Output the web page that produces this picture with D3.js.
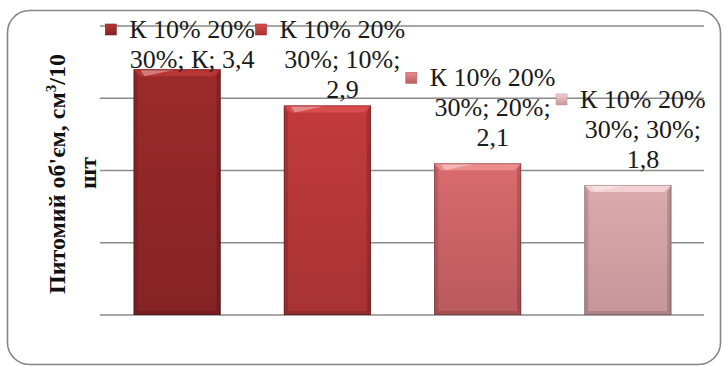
<!DOCTYPE html>
<html>
<head>
<meta charset="utf-8">
<script src="https://cdn.jsdelivr.net/npm/d3@7"></script>
<style>
  body { margin: 0; background: #fff; }
  svg { display: block; }
</style>
</head>
<body>
<script>
// data
var categories = ["К", "10%", "20%", "30%"];
var values = [3.4, 2.9, 2.1, 1.8];
var seriesName = "К 10% 20% 30%";
var yTicks = [0, 1, 2, 3, 4];
var yTitle = ["Питомий об'єм, см", "3", "/10"];
var yTitle2 = "шт";

// bar colours: [top, body, bottom]
var colors = [
    ["#b83636", "#9c2a2b", "#842325"],
    ["#d84c4c", "#c23b3c", "#a83234"],
    ["#ec8c8d", "#d96b6d", "#b95a5d"],
    ["#f2cfd1", "#dcaaad", "#c6969a"]
];

var serif = "Liberation Serif, Tinos, Times New Roman, DejaVu Serif, serif";

var W = 724, H = 366;
var svg = d3.select("body").append("svg")
    .attr("width", W)
    .attr("height", H);

var defs = svg.append("defs");

// outer frame
svg.append("rect")
    .attr("x", 7.5).attr("y", 10.5)
    .attr("width", 713).attr("height", 354)
    .attr("rx", 22)
    .attr("fill", "#fff")
    .attr("stroke", "#858585")
    .attr("stroke-width", 1.6);

var x = d3.scaleBand()
    .domain(categories)
    .range([102, 703])
    .paddingInner(0.42)
    .paddingOuter(0.21);

var y = d3.scaleLinear()
    .domain([0, 4])
    .range([315, 26]);

// gridlines
svg.append("g")
    .selectAll("line")
    .data(yTicks)
    .enter()
    .append("line")
    .attr("x1", 100)
    .attr("x2", 704)
    .attr("y1", d => y(d))
    .attr("y2", d => y(d))
    .attr("stroke", "#8a8a8a")
    .attr("stroke-width", 1.5);

// gradients for each bar
colors.forEach(function (c, i) {
    var g = defs.append("linearGradient")
        .attr("id", "bar" + i)
        .attr("x1", 0).attr("y1", 0).attr("x2", 0).attr("y2", 1);
    g.append("stop").attr("offset", "0%").attr("stop-color", c[1]);
    g.append("stop").attr("offset", "100%").attr("stop-color", c[2]);
    var k = defs.append("linearGradient")
        .attr("id", "key" + i)
        .attr("x1", 0).attr("y1", 0).attr("x2", 0).attr("y2", 1);
    k.append("stop").attr("offset", "0%").attr("stop-color", c[0]);
    k.append("stop").attr("offset", "100%").attr("stop-color", c[2]);
});

var data = categories.map((c, i) => ({cat: c, value: values[i], i: i}));
var b = 7; // bevel size

var bars = svg.append("g")
    .selectAll("g")
    .data(data)
    .enter()
    .append("g");

bars.each(function (d) {
    var g = d3.select(this);
    var x0 = x(d.cat), w = x.bandwidth();
    var y0 = y(d.value), h = y(0) - y(d.value);
    var c = colors[d.i];
    g.append("rect")
        .attr("x", x0).attr("y", y0)
        .attr("width", w).attr("height", h)
        .attr("fill", "url(#bar" + d.i + ")");
    // top bevel
    g.append("path")
        .attr("d", "M" + x0 + "," + y0 + "H" + (x0 + w) + "L" + (x0 + w - b) + "," + (y0 + b) +
            "H" + (x0 + b) + "Z")
        .attr("fill", c[0]);
    g.append("path")
        .attr("d", "M" + (x0 + b) + "," + (y0 + 1) + "H" + (x0 + w * 0.45) + "L" + (x0 + b + 4) + "," + (y0 + b) + "Z")
        .attr("fill", "#fff").attr("opacity", 0.35);
    // side bevels
    g.append("path")
        .attr("d", "M" + x0 + "," + y0 + "L" + (x0 + b * 0.6) + "," + (y0 + b) + "V" + (y0 + h - 4) +
            "L" + x0 + "," + (y0 + h) + "Z")
        .attr("fill", "#000").attr("opacity", 0.12);
    g.append("path")
        .attr("d", "M" + (x0 + w) + "," + y0 + "L" + (x0 + w - b * 0.6) + "," + (y0 + b) + "V" + (y0 + h - 4) +
            "L" + (x0 + w) + "," + (y0 + h) + "Z")
        .attr("fill", "#000").attr("opacity", 0.16);
    // bottom bevel
    g.append("path")
        .attr("d", "M" + x0 + "," + (y0 + h) + "L" + (x0 + 4) + "," + (y0 + h - 4) + "H" + (x0 + w - 4) +
            "L" + (x0 + w) + "," + (y0 + h) + "Z")
        .attr("fill", "#000").attr("opacity", 0.12);
    g.append("rect")
        .attr("x", x0 + 0.5).attr("y", y0 + 0.5)
        .attr("width", w - 1).attr("height", h - 1)
        .attr("fill", "none")
        .attr("stroke", "#000").attr("stroke-opacity", 0.22);
});

// data labels with legend key, wrapped like the reference
var fs = 26, lh = 30, maxW = 135, dx = 15, gap = 17;
var labels = svg.append("g")
    .style("font-family", serif)
    .attr("font-size", fs)
    .attr("fill", "#1a1a1a");

var measure = labels.append("text").attr("visibility", "hidden");
function textW(s) { measure.text(s); return measure.node().getComputedTextLength(); }

data.forEach(function (d) {
    var words = (seriesName + "; " + d.cat + "; " + String(d.value).replace(".", ",")).split(" ");
    var lines = [], cur = "";
    words.forEach(function (wd) {
        var t = cur ? cur + " " + wd : wd;
        if (cur && textW(t) > maxW) { lines.push(cur); cur = wd; }
        else cur = t;
    });
    lines.push(cur);
    var cx = x(d.cat) + x.bandwidth() / 2 + dx;
    var first = Math.max(38, y(d.value) - gap - (lines.length - 1) * lh);
    var t = labels.append("text").attr("text-anchor", "middle");
    lines.forEach(function (l, k) {
        t.append("tspan").attr("x", cx).attr("y", first + k * lh).text(l);
    });
    var w1 = textW(lines[0]);
    labels.append("rect")
        .attr("x", cx - w1 / 2 - 24).attr("y", first - 14)
        .attr("width", 11).attr("height", 11)
        .attr("fill", "url(#key" + d.i + ")")
        .attr("stroke", colors[d.i][2]).attr("stroke-width", 0.6);
});
measure.remove();

// y axis title
var title = svg.append("g")
    .style("font-family", serif)
    .attr("font-weight", "bold")
    .attr("font-size", 24)
    .attr("fill", "#111")
    .attr("text-anchor", "middle");

var t1 = title.append("text")
    .attr("transform", "translate(65,174) rotate(-90)");
t1.append("tspan").text(yTitle[0]);
t1.append("tspan").attr("font-size", 15).attr("dy", -9).text(yTitle[1]);
t1.append("tspan").attr("dy", 9).text(yTitle[2]);

title.append("text")
    .attr("transform", "translate(96,173) rotate(-90)")
    .text(yTitle2);
</script>
</body>
</html>
